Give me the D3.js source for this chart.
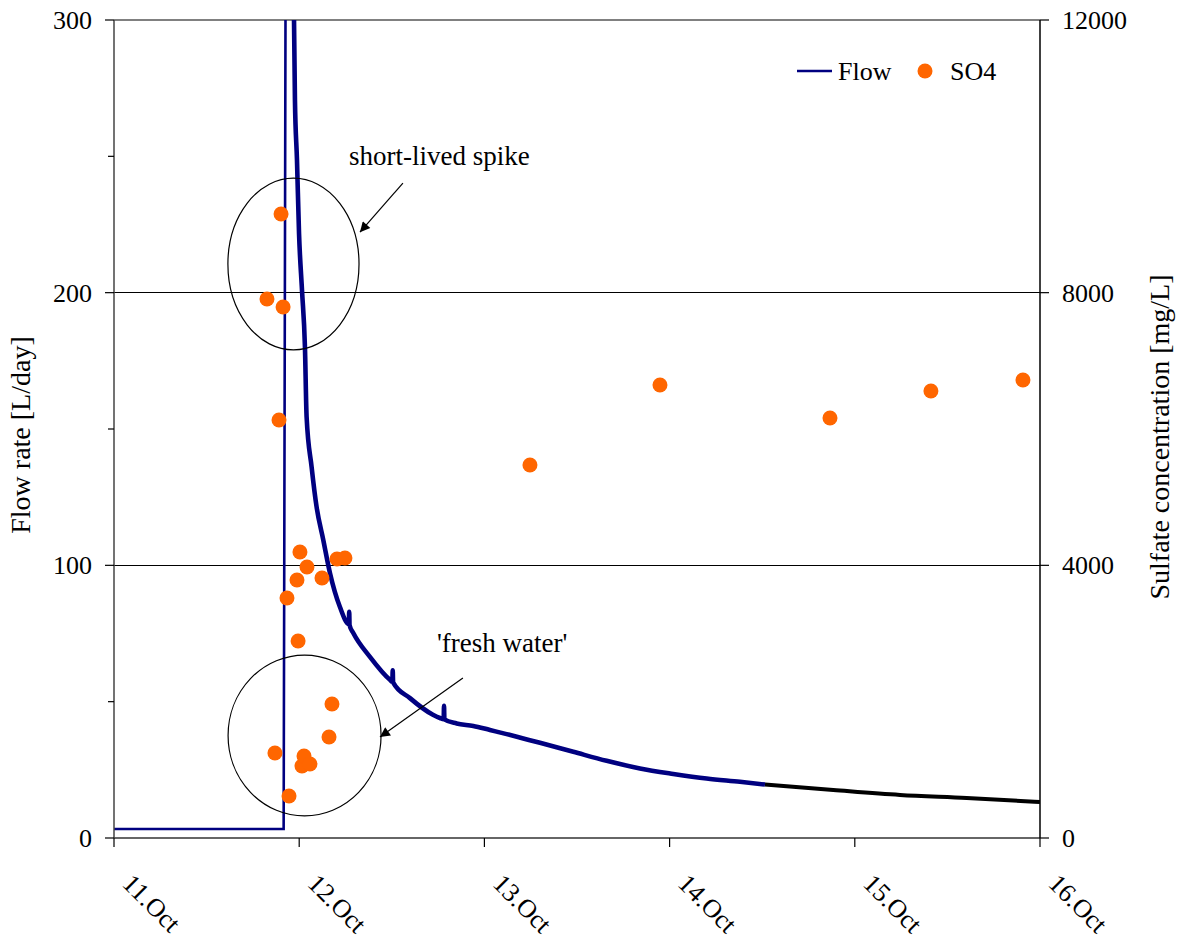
<!DOCTYPE html>
<html>
<head>
<meta charset="utf-8">
<script src="https://cdn.jsdelivr.net/npm/d3@7"></script>
<style>
  html, body { margin: 0; padding: 0; background: #fff; }
  svg { display: block; }
  text { font-family: "Liberation Serif", "Times New Roman", serif; fill: #000; }
</style>
</head>
<body>
<svg id="chart" width="1180" height="943"></svg>
<script>
// ---------------- data ----------------
// day of October (fractional), flow rate [L/day]
const flow = [
  [11.000, 3.3], [11.916, 3.3], [11.926, 300], [11.928, 340], [11.968, 340],
  [11.972, 300], [11.977, 270.7], [11.988, 248.7], [11.999, 221.9], [12.015, 201.0],
  [12.031, 180.1], [12.040, 154.4], [12.067, 136.1], [12.094, 121.4], [12.130, 109.3],
  [12.166, 97.2], [12.220, 84.7], [12.268, 78.5], [12.270, 83.0], [12.272, 78.0],
  [12.292, 75.2], [12.382, 66.4], [12.490, 58.0], [12.503, 57.3], [12.505, 61.5],
  [12.507, 57.1], [12.598, 51.3], [12.722, 45.2], [12.760, 44.0], [12.780, 43.6],
  [12.782, 48.5], [12.784, 43.5], [12.850, 42.0], [12.940, 41.1], [13.030, 39.6],
  [13.120, 38.1], [13.210, 36.5], [13.300, 34.9], [13.480, 31.6], [13.660, 28.3],
  [13.840, 25.5], [14.020, 23.5], [14.200, 21.8], [14.380, 20.6], [14.515, 19.6],
  [14.884, 17.6], [15.244, 15.8], [15.604, 14.7], [16.000, 13.2]
];
// day at which the sharp rise ends and the recession starts
const flowRecessionStart = 11.972;
// day at which the recorded flow trace changes from navy to black
const flowColourBreak = 14.515;

// day of October (fractional), sulfate concentration [mg/L]
const so4 = [
  [11.826, 7907], [11.869, 1247], [11.891, 6132], [11.902, 9154], [11.913, 7790],
  [11.934, 3521], [11.945, 616], [11.988, 3785], [11.994, 2890], [12.004, 4196],
  [12.015, 1056], [12.026, 1203], [12.042, 3976], [12.058, 1086], [12.123, 3814],
  [12.161, 1482], [12.177, 1966], [12.204, 4093], [12.247, 4108], [13.246, 5472],
  [13.948, 6645], [14.866, 6161], [15.411, 6557], [15.908, 6719]
];

const xTicks = [11, 12, 13, 14, 15, 16];
const xTickLabels = ["11.Oct", "12.Oct", "13.Oct", "14.Oct", "15.Oct", "16.Oct"];
const yLeftTicks = [0, 100, 200, 300];
const yLeftMinor = [50, 150, 250];
const yRightTicks = [0, 4000, 8000, 12000];

// annotations in data units (day, flow)
const ellipses = [
  { day: 11.969, flow: 210.5, rDay: 0.354, rFlow: 31.5 },
  { day: 12.029, flow: 37.6, rDay: 0.413, rFlow: 29.5 }
];
const arrows = [
  { from: [12.560, 240.2], to: [12.328, 222.2] },
  { from: [12.884, 58.7], to: [12.436, 37.0] }
];
const notes = [
  { day: 12.269, flow: 246.8, text: "short-lived spike" },
  { day: 12.744, flow: 68.2, text: "'fresh water'" }
];

// ---------------- layout ----------------
const L = 114, R = 1040, T = 20, B = 838;
const svg = d3.select("#chart");
svg.append("rect").attr("width", 1180).attr("height", 943).attr("fill", "#fff");

const x = d3.scaleLinear().domain([11, 16]).range([L, R]);
const yL = d3.scaleLinear().domain([0, 300]).range([B, T]);
const yR = d3.scaleLinear().domain([0, 12000]).range([B, T]);

const defs = svg.append("defs");
defs.append("clipPath").attr("id", "plot")
  .append("rect").attr("x", L).attr("y", T).attr("width", R - L).attr("height", B - T);
defs.append("marker").attr("id", "arrow")
  .attr("viewBox", "0 0 10 10").attr("refX", 10).attr("refY", 5)
  .attr("markerWidth", 12).attr("markerHeight", 10).attr("markerUnits", "userSpaceOnUse")
  .attr("orient", "auto")
  .append("path").attr("d", "M0,0 L10,5 L0,10 Z").attr("fill", "#000");

// gridlines
svg.append("g").selectAll("line").data([100, 200, 300]).join("line")
  .attr("x1", L).attr("x2", R)
  .attr("y1", d => yL(d)).attr("y2", d => yL(d))
  .attr("stroke", d => d === 300 ? "#808080" : "#000")
  .attr("stroke-width", d => d === 300 ? 1.5 : 1)
  .attr("shape-rendering", "crispEdges");

// flow line
const line = d3.line().x(d => x(d[0])).y(d => yL(d[1])).curve(d3.curveMonotoneX);
const lineLin = d3.line().x(d => x(d[0])).y(d => yL(d[1]));
const flowRise = flow.filter(d => d[0] <= flowRecessionStart);
const flowA = flow.filter(d => d[0] >= flowRecessionStart && d[0] <= flowColourBreak);
const flowB = flow.filter(d => d[0] >= flowColourBreak);
const gFlow = svg.append("g").attr("clip-path", "url(#plot)");
gFlow.append("path").datum(flowRise).attr("d", lineLin)
  .attr("fill", "none").attr("stroke", "#000080").attr("stroke-width", 2.6);
gFlow.append("path").datum(flowA).attr("d", line)
  .attr("fill", "none").attr("stroke", "#000080").attr("stroke-width", 4.6)
  .attr("stroke-linejoin", "round");
gFlow.append("path").datum(flowB).attr("d", line)
  .attr("fill", "none").attr("stroke", "#000").attr("stroke-width", 4)
  .attr("stroke-linejoin", "round");

// annotations
const gAnn = svg.append("g");
gAnn.selectAll("ellipse").data(ellipses).join("ellipse")
  .attr("cx", d => x(d.day)).attr("cy", d => yL(d.flow))
  .attr("rx", d => x(d.day + d.rDay) - x(d.day))
  .attr("ry", d => yL(0) - yL(d.rFlow))
  .attr("fill", "none").attr("stroke", "#000").attr("stroke-width", 1.2);
gAnn.selectAll("line").data(arrows).join("line")
  .attr("x1", d => x(d.from[0])).attr("y1", d => yL(d.from[1]))
  .attr("x2", d => x(d.to[0])).attr("y2", d => yL(d.to[1]))
  .attr("stroke", "#000").attr("stroke-width", 1.2)
  .attr("marker-end", "url(#arrow)");
gAnn.selectAll("text").data(notes).join("text")
  .attr("x", d => x(d.day)).attr("y", d => yL(d.flow))
  .attr("font-size", 27).text(d => d.text);

// SO4 dots
svg.append("g").selectAll("circle").data(so4).join("circle")
  .attr("cx", d => x(d[0])).attr("cy", d => yR(d[1])).attr("r", 7.5)
  .attr("fill", "#FF6600");

// axes lines
svg.append("line").attr("x1", L).attr("x2", R).attr("y1", B).attr("y2", B)
  .attr("stroke", "#666").attr("stroke-width", 2);
svg.append("line").attr("x1", L).attr("x2", L).attr("y1", T).attr("y2", B)
  .attr("stroke", "#444").attr("stroke-width", 1.5);
svg.append("line").attr("x1", R).attr("x2", R).attr("y1", T).attr("y2", B)
  .attr("stroke", "#000").attr("stroke-width", 1.5);

// x ticks
const gx = svg.append("g");
gx.selectAll("line").data(xTicks).join("line")
  .attr("x1", d => x(d)).attr("x2", d => x(d)).attr("y1", B).attr("y2", B + 9)
  .attr("stroke", "#000").attr("stroke-width", 1.2);
gx.selectAll("text").data(xTicks).join("text")
  .attr("transform", d => `translate(${x(d) + 7},${B + 47}) rotate(45)`)
  .attr("font-size", 26)
  .text((d, i) => xTickLabels[i]);

// left y ticks
const gyl = svg.append("g");
gyl.selectAll("line.maj").data(yLeftTicks).join("line").attr("class", "maj")
  .attr("x1", L - 9).attr("x2", L).attr("y1", d => yL(d)).attr("y2", d => yL(d))
  .attr("stroke", "#000").attr("stroke-width", 1.2);
gyl.selectAll("line.min").data(yLeftMinor).join("line").attr("class", "min")
  .attr("x1", L - 6).attr("x2", L).attr("y1", d => yL(d)).attr("y2", d => yL(d))
  .attr("stroke", "#000").attr("stroke-width", 1.2);
gyl.selectAll("text").data(yLeftTicks).join("text")
  .attr("x", L - 22).attr("y", d => yL(d)).attr("dy", "0.34em")
  .attr("text-anchor", "end").attr("font-size", 26).text(d => d);

// right y ticks
const gyr = svg.append("g");
gyr.selectAll("line").data(yRightTicks).join("line")
  .attr("x1", R).attr("x2", R + 9).attr("y1", d => yR(d)).attr("y2", d => yR(d))
  .attr("stroke", "#000").attr("stroke-width", 1.2);
gyr.selectAll("text").data(yRightTicks).join("text")
  .attr("x", R + 22).attr("y", d => yR(d)).attr("dy", "0.34em")
  .attr("font-size", 26).text(d => d);

// axis titles
svg.append("text").attr("transform", `translate(30,${(T + B) / 2 + 6}) rotate(-90)`)
  .attr("text-anchor", "middle").attr("font-size", 28).text("Flow rate [L/day]");
svg.append("text").attr("transform", `translate(1169,${(T + B) / 2 + 8}) rotate(-90)`)
  .attr("text-anchor", "middle").attr("font-size", 28).text("Sulfate concentration [mg/L]");

// legend
const lg = svg.append("g");
lg.append("line").attr("x1", 797).attr("x2", 832).attr("y1", 71).attr("y2", 71)
  .attr("stroke", "#000080").attr("stroke-width", 2.5);
lg.append("text").attr("x", 838).attr("y", 80).attr("font-size", 26).text("Flow");
lg.append("circle").attr("cx", 925).attr("cy", 71).attr("r", 7.5).attr("fill", "#FF6600");
lg.append("text").attr("x", 950).attr("y", 80).attr("font-size", 26).text("SO4");
</script>
</body>
</html>
